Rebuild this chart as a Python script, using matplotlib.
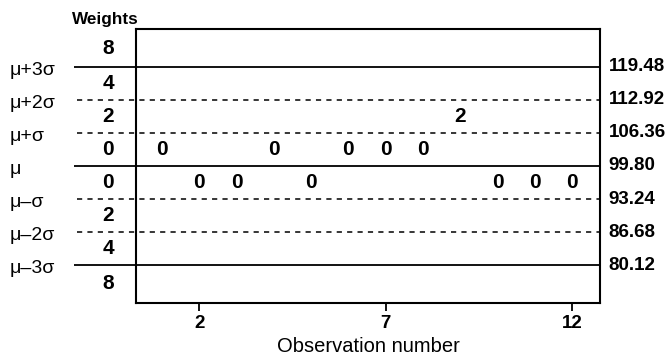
import matplotlib
matplotlib.use("Agg")
import matplotlib.pyplot as plt

plt.rcParams['font.family'] = ['Liberation Sans', 'DejaVu Sans']

# Data
mean = 99.80
sigma = 6.56
limit_values = [119.48, 112.92, 106.36, 99.80, 93.24, 86.68, 80.12]
limit_labels = ["μ+3σ", "μ+2σ", "μ+σ", "μ", "μ–σ", "μ–2σ", "μ–3σ"]
zone_weights = ["8", "4", "2", "0", "0", "2", "4", "8"]   # zones from top to bottom
observations = [1, 2, 3, 4, 5, 6, 7, 8, 9, 10, 11, 12]
zone_of_obs = [1, -1, -1, 1, -1, 1, 1, 1, 2, -1, -1, -1]  # +k: between mu+(k-1)s and mu+ks
scores = ["0", "0", "0", "0", "0", "0", "0", "0", "2", "0", "0", "0"]
xticks = [2, 7, 12]

W, H = 669, 358
fig = plt.figure(figsize=(W / 100, H / 100), dpi=100)
L, R, T, B = 136, 600, 29, 303
ax = fig.add_axes([L / W, 1 - B / H, (R - L) / W, (B - T) / H])

ylo = mean - 4.15 * sigma
yhi = mean + 4.15 * sigma
ax.set_ylim(ylo, yhi)
ax.set_xlim(0.3, 12.75)

ytr = ax.get_yaxis_transform()
for v, lab in zip(limit_values, limit_labels):
    k = round((v - mean) / sigma)
    if k in (-3, 0, 3):
        ax.plot([-0.133, 1.0], [v, v], transform=ytr, color='black', lw=1.3,
                clip_on=False, solid_capstyle='butt')
    else:
        ax.plot([-0.127, 1.0], [v, v], transform=ytr, color='black', lw=1.1,
                dashes=(3.4, 3.4), clip_on=False)
    ax.text(-0.272, v - 0.25 * sigma, lab, transform=ytr, ha='left',
            va='baseline', fontsize=14)
    ax.text(1.019, v, f"{v:.2f}", transform=ytr, ha='left', va='center',
            fontsize=13.5, fontweight='bold')

# zone weights
for i, w in enumerate(zone_weights):
    yc = mean + (3.5 - i) * sigma
    if i == 0:
        yc = mean + 3.55 * sigma
    if i == len(zone_weights) - 1:
        yc = mean - 3.55 * sigma
    ax.text(-0.06, yc, w, transform=ytr, ha='center', va='center', fontsize=15,
            fontweight='bold')

ax.text(-0.138, 1.035, "Weights", transform=ax.transAxes, ha='left', va='center',
        fontsize=12.3, fontweight='bold')

for x, z, s in zip(observations, zone_of_obs, scores):
    yc = mean + (z - 0.5 if z > 0 else z + 0.5) * sigma
    ax.text(x, yc, s, ha='center', va='center', fontsize=15, fontweight='bold')

ax.set_xticks(xticks)
ax.set_xticklabels([str(t) for t in xticks], fontsize=13.5, fontweight='bold')
ax.set_yticks([])
ax.tick_params(axis='x', length=6, width=1.3, pad=3)
for sp in ax.spines.values():
    sp.set_linewidth(1.5)
ax.set_xlabel("Observation number", fontsize=14.5, labelpad=3)

fig.savefig("out.png", dpi=100)
